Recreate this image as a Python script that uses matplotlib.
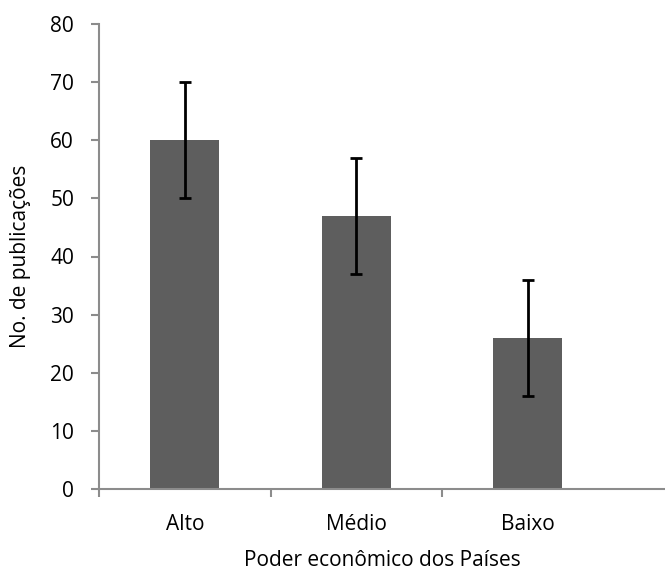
import matplotlib
matplotlib.use('Agg')
import matplotlib.pyplot as plt
import numpy as np

# data
categories = ['Alto', 'Médio', 'Baixo']
values = [60, 47, 26]
errors = [10, 10, 10]

plt.rcParams['font.family'] = ['Open Sans', 'DejaVu Sans']

fig = plt.figure(figsize=(6.65, 5.73), dpi=100)
ax = fig.add_axes([99 / 665, 1 - 489 / 573, 1 - 99 / 665, (489 - 24) / 573])

x = np.arange(len(categories))
ax.bar(x, values, width=0.4, color='#5e5e5e', zorder=2)
ax.errorbar(x, values, yerr=errors, fmt='none', ecolor='black',
            elinewidth=2, capsize=4.5, capthick=2, zorder=3)

ax.set_ylim(0, 80)
ax.set_yticks(range(0, 81, 10))
ax.set_xlim(-0.5, 2.8)
ax.set_xticks([-0.5, 0.5, 1.5])
ax.set_xticklabels([])
ax.set_xticks(x, minor=True)
ax.set_xticklabels(categories, minor=True)
ax.tick_params(axis='x', which='minor', length=0, pad=18, labelsize=15)
ax.tick_params(axis='x', which='major', length=6, width=1.5, color='#8c8c8c')
ax.tick_params(axis='y', length=6, width=1.5, color='#8c8c8c', labelsize=15, pad=12)

for s in ['top', 'right']:
    ax.spines[s].set_visible(False)
for s in ['left', 'bottom']:
    ax.spines[s].set_color('#8c8c8c')
    ax.spines[s].set_linewidth(1.5)

ax.set_ylabel('No. de publicações', fontsize=15, labelpad=14)
ax.set_xlabel('Poder econômico dos Países', fontsize=15, labelpad=11)

fig.savefig('out.png', dpi=100)
